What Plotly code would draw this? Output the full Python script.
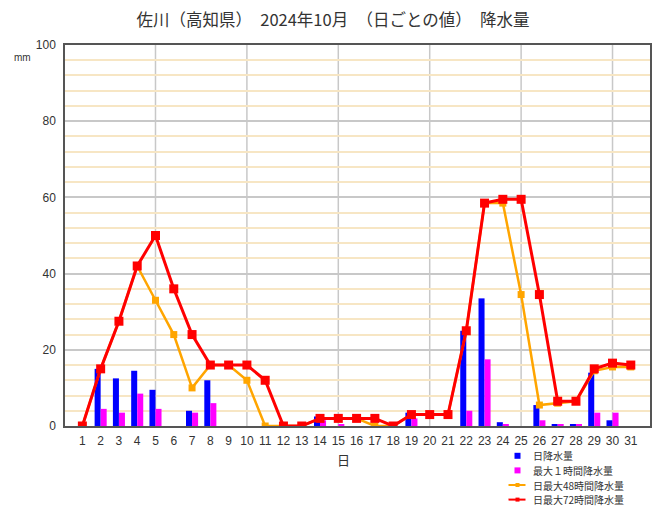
import plotly.graph_objects as go

days = list(range(1, 32))
day_labels = [str(d) for d in days]

daily = [0, 15.0, 12.5, 14.5, 9.5, 0, 4.0, 12.0, 0, 0,
         0, 0, 0, 2.5, 0, 0, 0, 0, 3.5, 0,
         0, 25.0, 33.5, 1.0, 0, 5.5, 0.5, 0.5, 14.0, 1.5, 0]
max1h = [0, 4.5, 3.5, 8.5, 4.5, 0, 3.5, 6.0, 0, 0,
         0, 0, 0, 1.5, 0.5, 0, 0, 0, 2.0, 0,
         0, 4.0, 17.5, 0.5, 0, 1.5, 0.5, 0.5, 3.5, 3.5, 0]
max48h = [0, 15.0, 27.5, 42.0, 33.0, 24.0, 10.0, 16.0, 16.0, 12.0,
          0, 0, 0, 2.0, 2.0, 2.0, 0, 0, 3.0, 3.0,
          3.0, 25.0, 58.5, 58.5, 34.5, 5.5, 6.0, 6.5, 14.5, 15.5, 15.5]
max72h = [0, 15.0, 27.5, 42.0, 50.0, 36.0, 24.0, 16.0, 16.0, 16.0,
          12.0, 0, 0, 2.0, 2.0, 2.0, 2.0, 0, 3.0, 3.0,
          3.0, 25.0, 58.5, 59.5, 59.5, 34.5, 6.5, 6.5, 15.0, 16.5, 16.0]

names = ["日降水量", "最大１時間降水量", "日最大48時間降水量", "日最大72時間降水量"]
colors = ["#0000ff", "#ff00ff", "#ffa500", "#ff0000"]
title_text = "佐川（高知県）　2024年10月　（日ごとの値）　降水量"

font_jp = "Noto Sans CJK JP"
font_num = "Liberation Sans, Arial"

# figure sits at an 8px body margin inside the page
W, H = 653, 499
ML, MR, MT, MB = 57, 11, 37, 81
PW, PH = W - ML - MR, H - MT - MB


def px(fx):
    return (fx - ML) / PW


def py(fy):
    return (H - MB - fy) / PH


fig = go.Figure()
fig.add_trace(go.Bar(x=days, y=daily, name=names[0], marker=dict(color=colors[0], line=dict(width=0))))
fig.add_trace(go.Bar(x=days, y=max1h, name=names[1], marker=dict(color=colors[1], line=dict(width=0))))
fig.add_trace(go.Scatter(x=days, y=max48h, name=names[2], mode="lines+markers",
                         line=dict(color=colors[2], width=2.5),
                         marker=dict(symbol="square", size=7, color=colors[2])))
fig.add_trace(go.Scatter(x=days, y=max72h, name=names[3], mode="lines+markers",
                         line=dict(color=colors[3], width=3),
                         marker=dict(symbol="square", size=9, color=colors[3])))

shapes = []
for v in range(5, 31, 5):
    shapes.append(dict(type="line", xref="x", yref="paper", x0=v, x1=v, y0=0, y1=1,
                       line=dict(color="#c8c8c8", width=1.5), layer="below"))

# manual legend (compact rows as in the reference)
LEG_FONT = 10
row_step = 14.6
row0 = 447.8
row_y = [row0 + k * row_step for k in range(len(names))]
icon_x = 509.5
text_x = 523
annotations = []
for i, name in enumerate(names):
    yy = row_y[i]
    if i < 2:
        shapes.append(dict(type="rect", xref="paper", yref="paper",
                           x0=px(icon_x - 3), x1=px(icon_x + 3), y0=py(yy + 3), y1=py(yy - 3),
                           fillcolor=colors[i], line=dict(width=0)))
    else:
        shapes.append(dict(type="line", xref="paper", yref="paper",
                           x0=px(icon_x - 9), x1=px(icon_x + 8), y0=py(yy), y1=py(yy),
                           line=dict(color=colors[i], width=2)))
        shapes.append(dict(type="rect", xref="paper", yref="paper",
                           x0=px(icon_x - 2), x1=px(icon_x + 2), y0=py(yy + 2), y1=py(yy - 2),
                           fillcolor=colors[i], line=dict(width=0)))
    annotations.append(dict(text=name, xref="paper", yref="paper", x=px(text_x), y=py(yy),
                            xanchor="left", yanchor="middle", showarrow=False,
                            font=dict(family=font_jp, size=LEG_FONT, color="#333333")))

annotations += [
    dict(text="mm", xref="paper", yref="paper", x=px(25), y=py(49),
         xanchor="right", yanchor="middle", showarrow=False,
         font=dict(family=font_num, size=10, color="#333333")),
    dict(text="日", xref="x", yref="paper", x=15.3, y=py(452),
         xanchor="center", yanchor="middle", showarrow=False,
         font=dict(family=font_jp, size=13, color="#333333")),
]

fig.update_layout(
    width=W, height=H,
    margin=dict(l=ML, r=MR, t=MT, b=MB, autoexpand=False),
    paper_bgcolor="white", plot_bgcolor="white",
    barmode="group", bargap=0.34, bargroupgap=0,
    title=dict(text=title_text, x=325 / W, xanchor="center", y=1 - 12 / H, yanchor="middle",
               font=dict(family=font_jp, size=16.5, color="#333333")),
    font=dict(family=font_jp, size=12, color="#333333"),
    showlegend=False,
    xaxis=dict(range=[0.05, 32.05], tickmode="array", tickvals=days, ticktext=day_labels,
               showgrid=False, zeroline=False, ticks="", showline=True, linecolor="#555555",
               linewidth=1.5, mirror=True, automargin=False, ticklabelstandoff=3,
               tickfont=dict(family=font_num, size=12, color="#333333")),
    yaxis=dict(range=[0, 100], tickmode="linear", tick0=0, dtick=20,
               showgrid=True, gridcolor="#c8c8c8", gridwidth=1.5, zeroline=False,
               ticks="", showline=True, linecolor="#555555", linewidth=1.5, mirror=True, automargin=False,
               ticklabelstandoff=5,
               tickfont=dict(family=font_num, size=12, color="#333333"),
               minor=dict(dtick=4, tick0=0, showgrid=True, gridcolor="#f7e6c4", gridwidth=1.5)),
    shapes=shapes,
    annotations=annotations,
)

fig.write_html("out.html")
